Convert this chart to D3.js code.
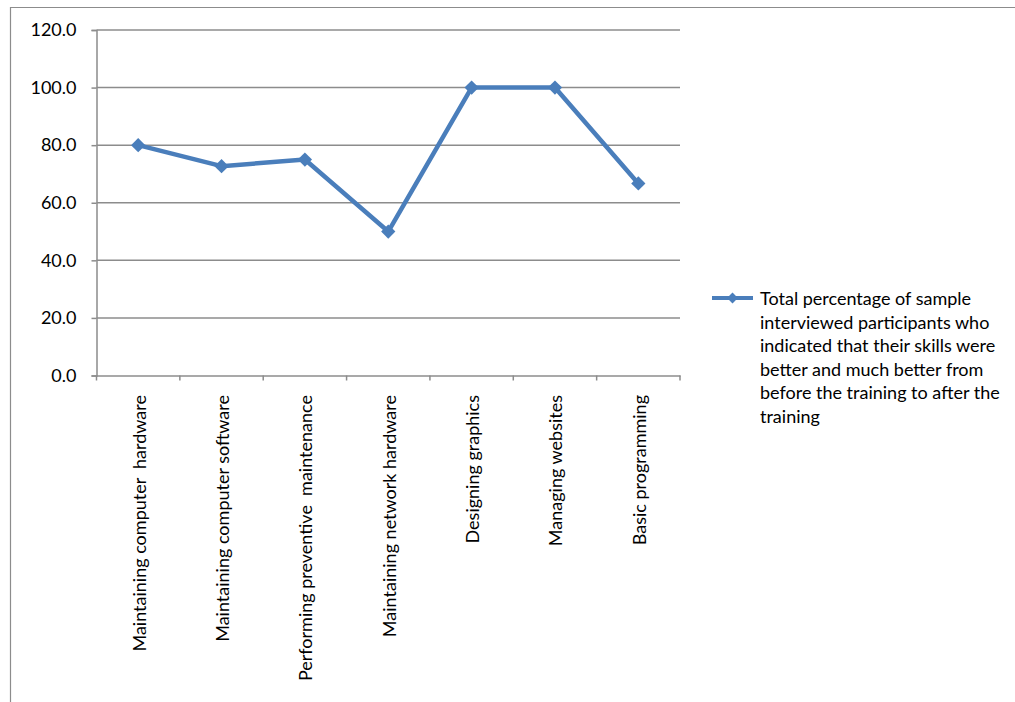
<!DOCTYPE html>
<html><head><meta charset="utf-8">
<script src="https://cdn.jsdelivr.net/npm/d3@7"></script>
<style>body{margin:0;background:#fff}svg{display:block}</style>
</head><body>
<script>
const categories = ["Maintaining computer  hardware","Maintaining computer software","Performing preventive  maintenance","Maintaining network hardware","Designing graphics","Managing websites","Basic programming"];
const values = [80.0, 72.7, 75.0, 50.0, 100.0, 100.0, 66.7];
const yTicks = [0, 20, 40, 60, 80, 100, 120];
const legendLines = ["Total percentage of sample","interviewed participants who","indicated that their skills were","better and much better from","before the training to after the","training"];

const W = 1015, H = 702;
const font = "Lato, 'Open Sans', sans-serif";
const fs = 18;
const svg = d3.select("body").append("svg").attr("width", W).attr("height", H);

// chart frame
svg.append("path").attr("d", `M10.5,${H} V7.5 H${W}`).attr("fill","none").attr("stroke","#8c8c8c").attr("stroke-width",1.2);

const x = d3.scaleBand().domain(categories).range([96.5, 680]);
const y = d3.scaleLinear().domain([0,120]).range([375.5, 30]);

// gridlines
svg.append("g").selectAll("line").data(yTicks.filter(d=>d>0)).join("line")
  .attr("x1", 96.5).attr("x2", 680).attr("y1", d=>y(d)).attr("y2", d=>y(d))
  .attr("stroke","#8c8c8c").attr("stroke-width",1.5);

// y axis
const yAxis = svg.append("g").attr("transform","translate(96.5,0)")
  .call(d3.axisLeft(y).tickValues(yTicks).tickFormat(d3.format(".1f")).tickSize(5).tickPadding(15));
yAxis.selectAll("path,line").attr("stroke","#8c8c8c").attr("stroke-width",1.5);
yAxis.selectAll("text").attr("font-family",font).attr("font-size",fs).attr("fill","#000");

// x axis
const xAxis = svg.append("g").attr("transform","translate(0,375.5)")
  .call(d3.axisBottom(x).tickSize(0).tickFormat(""));
xAxis.select(".domain").attr("stroke","#8c8c8c").attr("stroke-width",1.5);
const bounds = categories.map(c=>x(c)).concat([680]);
xAxis.selectAll(".sep").data(bounds).join("line").attr("class","sep")
  .attr("x1",d=>d).attr("x2",d=>d).attr("y1",0).attr("y2",5)
  .attr("stroke","#8c8c8c").attr("stroke-width",1.5);

svg.append("g").selectAll("text").data(categories).join("text")
  .attr("transform", d=>`translate(${x(d)+x.bandwidth()/2+7.5},395) rotate(-90)`)
  .attr("text-anchor","end")
  .attr("font-family",font).attr("font-size",fs).attr("fill","#000")
  .attr("xml:space","preserve").style("white-space","pre")
  .text(d=>d);

const blue = "#4A7EBB";
const cx = d => x(d) + x.bandwidth()/2;
svg.append("path").datum(values)
  .attr("d", d3.line().x((d,i)=>cx(categories[i])).y(d=>y(d)))
  .attr("fill","none").attr("stroke",blue).attr("stroke-width",4.5).attr("stroke-linejoin","round");

const diamond = d3.symbol().type(d3.symbolDiamond2).size(130);
svg.append("g").selectAll("path").data(values).join("path")
  .attr("transform",(d,i)=>`translate(${cx(categories[i])},${y(d)})`)
  .attr("d", diamond).attr("fill",blue);

// legend
const lg = svg.append("g");
lg.append("line").attr("x1",712).attr("x2",753).attr("y1",298).attr("y2",298).attr("stroke",blue).attr("stroke-width",4);
lg.append("path").attr("transform","translate(732.5,298)").attr("d", d3.symbol().type(d3.symbolDiamond2).size(75)).attr("fill",blue);
lg.selectAll("text").data(legendLines).join("text")
  .attr("x",760).attr("y",(d,i)=>305 + i*23.6)
  .attr("font-family",font).attr("font-size",fs).attr("fill","#000")
  .text(d=>d);
</script>
</body></html>
